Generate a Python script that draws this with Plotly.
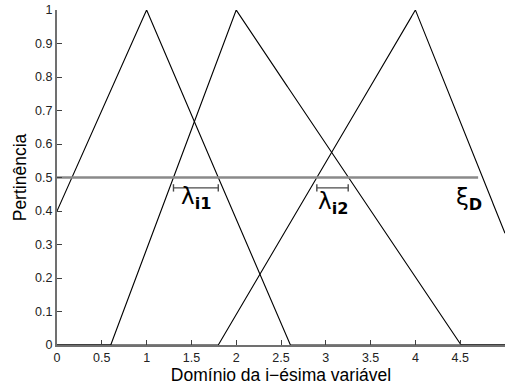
import numpy as np
import plotly.graph_objects as go

# Triangular membership functions (a, b, c) over the i-th variable's domain
mf_params = [(-2/3, 1.0, 2.6), (0.6, 2.0, 4.5), (1.8, 4.0, 5.5)]
domain = (0.0, 5.0)
xi_D = 0.5          # cut level
xi_D_end = 4.7      # extent of the cut line
x_ticks = [0, 0.5, 1, 1.5, 2, 2.5, 3, 3.5, 4, 4.5]
y_ticks = [0, 0.1, 0.2, 0.3, 0.4, 0.5, 0.6, 0.7, 0.8, 0.9, 1]
bracket_level = 0.469


def trimf(x, a, b, c):
    return np.maximum(np.minimum((x - a) / (b - a), (c - x) / (c - b)), 0.0)


def left_cut(p, y):
    a, b, _ = p
    return a + y * (b - a)


def right_cut(p, y):
    _, b, c = p
    return c - y * (c - b)


x = np.linspace(domain[0], domain[1], 1001)
fig = go.Figure()

for p in mf_params:
    fig.add_trace(go.Scatter(x=x, y=trimf(x, *p), mode="lines",
                             line=dict(color="black", width=1.1),
                             hoverinfo="skip", showlegend=False))

fig.add_trace(go.Scatter(x=[domain[0], xi_D_end], y=[xi_D, xi_D], mode="lines",
                         line=dict(color="#8a8a8a", width=2.5),
                         hoverinfo="skip", showlegend=False))

# lambda intervals between neighbouring functions at the cut level
intervals = [(left_cut(mf_params[1], xi_D), right_cut(mf_params[0], xi_D)),
             (left_cut(mf_params[2], xi_D), right_cut(mf_params[1], xi_D))]
cap = 0.011
for x0, x1 in intervals:
    fig.add_trace(go.Scatter(
        x=[x0, x1, None, x0, x0, None, x1, x1],
        y=[bracket_level, bracket_level, None, bracket_level - cap, bracket_level + cap,
           None, bracket_level - cap, bracket_level + cap],
        mode="lines", line=dict(color="#4a4a4a", width=1.4),
        hoverinfo="skip", showlegend=False))

labels = [("λ<sub><b>i1</b></sub>", (intervals[0][0] + intervals[0][1]) / 2, 0.44),
          ("λ<sub><b>i2</b></sub>", (intervals[1][0] + intervals[1][1]) / 2, 0.425),
          ("ξ<sub><b>D</b></sub>", 4.6, 0.435)]
for text, lx, ly in labels:
    fig.add_annotation(x=lx, y=ly, text=text, showarrow=False,
                       font=dict(family="DejaVu Sans, Liberation Sans", size=23, color="black"))

axis_common = dict(showgrid=False, zeroline=False, showline=True, linecolor="#707070",
                   linewidth=2, ticks="inside", ticklen=5, tickcolor="#404040",
                   tickfont=dict(family="Liberation Sans, Arial", size=12.5, color="#222"))

fig.update_xaxes(range=list(domain), tickvals=x_ticks,
                 ticktext=[f"{v:g}" for v in x_ticks],
                 title=dict(text="Domínio da i−ésima variável", standoff=2,
                            font=dict(family="Liberation Sans, Arial", size=17.5, color="black")),
                 **axis_common)
fig.update_yaxes(range=[0, 1], tickvals=y_ticks,
                 ticktext=[f"{v:g}" for v in y_ticks],
                 title=dict(text="Pertinência", standoff=4,
                            font=dict(family="Liberation Sans, Arial", size=17.5, color="black")),
                 **axis_common)

fig.update_layout(width=505, height=385, margin=dict(l=57, r=0, t=10, b=40),
                  paper_bgcolor="white", plot_bgcolor="white")

fig.write_html("out.html")
